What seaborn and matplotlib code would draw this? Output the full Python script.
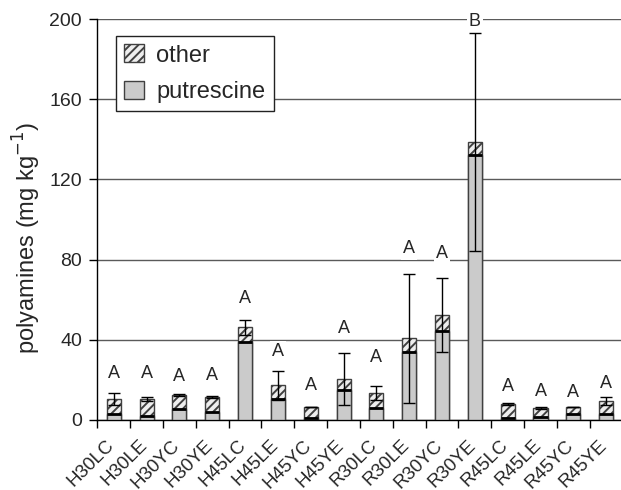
import numpy as np
import pandas as pd
import matplotlib
matplotlib.use("Agg")
import matplotlib.pyplot as plt
import matplotlib.transforms as mtransforms
from matplotlib.patches import Patch
import seaborn as sns

# Polyamine content per treatment (mg kg-1)
samples = ["H30LC", "H30LE", "H30YC", "H30YE", "H45LC", "H45LE", "H45YC", "H45YE",
           "R30LC", "R30LE", "R30YC", "R30YE", "R45LC", "R45LE", "R45YC", "R45YE"]
putrescine = [3.0, 2.0, 5.5, 4.0, 38.7, 10.3, 1.0, 14.8,
              5.8, 33.7, 44.2, 132.0, 1.0, 1.3, 2.8, 3.2]
other = [7.5, 8.3, 6.8, 7.3, 7.5, 7.0, 5.5, 5.5,
         7.5, 7.1, 8.0, 6.8, 6.8, 4.9, 3.9, 6.1]
total_err = [2.8, 1.0, 0.5, 0.5, 3.8, 7.2, 0.0, 12.9,
             3.4, 32.2, 18.4, 54.4, 0.5, 0.5, 0.0, 2.0]
letters = ["A", "A", "A", "A", "A", "A", "A", "A",
           "A", "A", "A", "B", "A", "A", "A", "A"]
letter_y = [23.0, 23.0, 21.7, 22.0, 60.5, 34.0, 17.0, 45.5,
            31.0, 85.3, 83.0, 199.0, 16.7, 14.0, 13.7, 18.0]

df = pd.DataFrame({"sample": samples, "putrescine": putrescine, "other": other,
                   "err": total_err})
df["total"] = df["putrescine"] + df["other"]

sns.set_theme(style="white")
plt.rcParams["font.family"] = ["Liberation Sans", "DejaVu Sans"]
plt.rcParams["hatch.linewidth"] = 1.4

PUT_COLOR = "#cbcbcb"
OTHER_FACE = "#eeeeee"
EDGE = "#404040"
BAR_W = 0.43

fig, ax = plt.subplots(figsize=(6.21, 4.90), dpi=100)
fig.subplots_adjust(left=0.1567, right=1.0, bottom=0.1429, top=0.9612)

# full stack (hatched "other" on top), then putrescine drawn over the lower part
sns.barplot(data=df, x="sample", y="total", order=samples, color=OTHER_FACE,
            saturation=1, width=BAR_W, errorbar=None, edgecolor=EDGE,
            linewidth=1.0, hatch="////", ax=ax, zorder=2)
sns.barplot(data=df, x="sample", y="putrescine", order=samples, color=PUT_COLOR,
            saturation=1, width=BAR_W, errorbar=None, edgecolor=EDGE,
            linewidth=1.0, ax=ax, zorder=3)

xpos = np.arange(len(samples))
ax.hlines(df["putrescine"], xpos - BAR_W / 2, xpos + BAR_W / 2,
          colors="black", linewidth=2.0, zorder=4)

ax.errorbar(xpos, df["total"], yerr=df["err"], fmt="none", ecolor="black",
            elinewidth=1.0, capsize=4.3, capthick=1.0, zorder=5)

for x, y, t in zip(xpos, letter_y, letters):
    ax.text(x, y, t, ha="center", va="center", fontsize=13, zorder=6,
            bbox=dict(facecolor="white", edgecolor="none", pad=1.5))

ax.set_xlim(-0.5, 15.45)
ax.set_ylim(0, 200)
ax.set_yticks([0, 40, 80, 120, 160, 200])
ax.yaxis.grid(True, color="#5a5a5a", linewidth=1.0)
ax.set_axisbelow(True)

for side in ["top", "right"]:
    ax.spines[side].set_visible(False)
for side in ["left", "bottom"]:
    ax.spines[side].set_color("black")
    ax.spines[side].set_linewidth(1.0)

ax.tick_params(axis="y", which="major", left=True, length=6, width=1.0,
               color="black", labelsize=14, pad=5, direction="out")
ax.set_xticks(xpos)
ax.set_xticks(np.arange(-0.5, 15.5, 1.0), minor=True)
ax.tick_params(axis="x", which="major", length=0, labelsize=13.5, pad=12)
ax.tick_params(axis="x", which="minor", bottom=True, length=6, width=1.0,
               color="black", direction="out")
shift = mtransforms.ScaledTranslation(-0.08, 0, fig.dpi_scale_trans)
for lab in ax.get_xticklabels():
    lab.set_rotation(45)
    lab.set_ha("right")
    lab.set_rotation_mode("anchor")
    lab.set_transform(lab.get_transform() + shift)

ax.set_xlabel("")
ax.set_ylabel("polyamines (mg kg$^{-1}$)", fontsize=17)
ax.yaxis.set_label_coords(-0.104, 0.455)

handles = [Patch(facecolor=OTHER_FACE, edgecolor=EDGE, hatch="////", linewidth=1.0,
                 label="other"),
           Patch(facecolor=PUT_COLOR, edgecolor=EDGE, linewidth=1.0,
                 label="putrescine")]
leg = ax.legend(handles=handles, loc="upper left", bbox_to_anchor=(0.0357, 0.9576),
                borderaxespad=0, fontsize=17, frameon=True, fancybox=False,
                handlelength=0.85, handleheight=0.8, handletextpad=0.5,
                borderpad=0.35, labelspacing=0.6)
leg.get_frame().set_edgecolor("#222222")
leg.get_frame().set_linewidth(1.0)
leg.get_frame().set_alpha(1.0)

fig.savefig("out.png", dpi=100)
